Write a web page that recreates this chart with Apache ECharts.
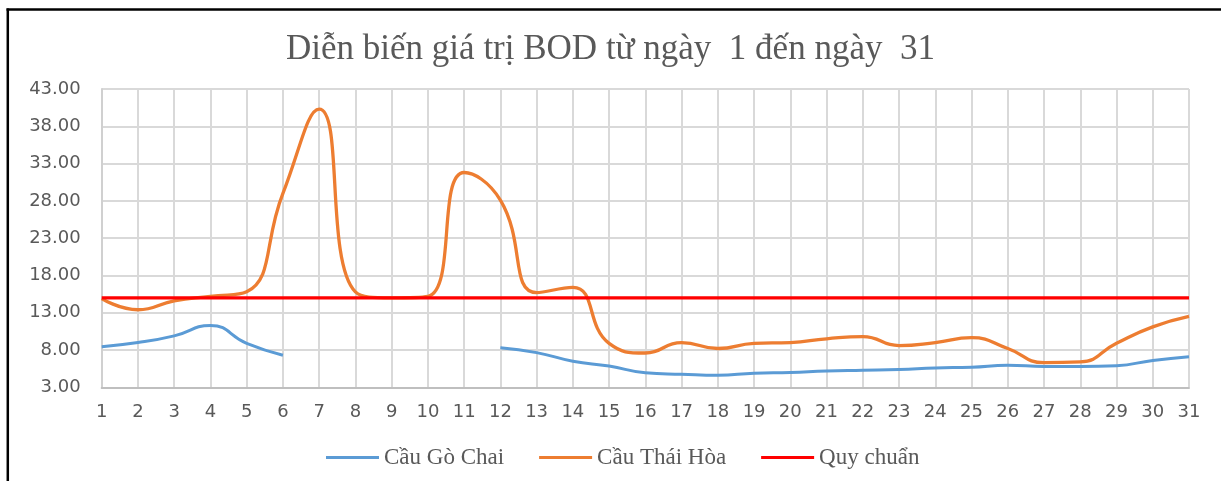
<!DOCTYPE html>
<html>
<head>
<meta charset="utf-8">
<script src="https://cdn.jsdelivr.net/npm/echarts@6/dist/echarts.min.js"></script>
<style>
html,body{margin:0;padding:0;background:#fff;}
#chart{width:1221px;height:481px;}
</style>
</head>
<body>
<div id="chart"></div>
<script>
const titleText = 'Diễn biến giá trị BOD từ ngày  1 đến ngày  31';
const days = ['1','2','3','4','5','6','7','8','9','10','11','12','13','14','15','16','17','18','19','20','21','22','23','24','25','26','27','28','29','30','31'];
const seriesNames = ['Cầu Gò Chai', 'Cầu Thái Hòa', 'Quy chuẩn'];
const goChai = [8.45, 9.0, 9.9, 11.3, 8.9, 7.3, null, null, null, null, null, 8.3, 7.65, 6.5, 5.85, 4.95, 4.75, 4.6, 4.9, 5.0, 5.2, 5.3, 5.4, 5.6, 5.7, 5.95, 5.8, 5.8, 5.9, 6.6, 7.1];
const thaiHoa = [14.9, 13.4, 14.6, 15.2, 15.8, 29.0, 40.3, 15.8, 15.0, 15.2, 31.8, 28.1, 15.7, 16.4, 8.9, 7.6, 9.0, 8.2, 8.9, 9.0, 9.5, 9.8, 8.6, 9.0, 9.65, 8.2, 6.3, 6.4, 8.9, 11.1, 12.5];
const quyChuan = [15,15,15,15,15,15,15,15,15,15,15,15,15,15,15,15,15,15,15,15,15,15,15,15,15,15,15,15,15,15,15];
const yMin = 3, yMax = 43, yStep = 5;

const chart = echarts.init(document.getElementById('chart'), null, {renderer: 'canvas'});
const textColor = '#595959';
chart.setOption({
  animation: false,
  backgroundColor: '#ffffff',
  title: {
    text: titleText,
    left: 'center',
    top: 27,
    textStyle: {fontFamily: 'Liberation Serif', fontSize: 35, fontWeight: 'normal', color: textColor}
  },
  legend: {
    left: 321,
    top: 441,
    icon: 'rect',
    itemWidth: 53,
    itemHeight: 3,
    itemGap: 35,
    textStyle: {fontFamily: 'Liberation Serif', fontSize: 23, color: textColor},
    data: seriesNames
  },
  grid: {left: 101.7, right: 32, top: 89, bottom: 93.7, containLabel: false},
  xAxis: {
    type: 'category',
    data: days,
    boundaryGap: false,
    axisLine: {lineStyle: {color: '#BFBFBF', width: 2}},
    axisTick: {show: false},
    axisLabel: {fontFamily: 'DejaVu Sans', fontSize: 18, color: textColor, margin: 16, interval: 0},
    splitLine: {show: true, lineStyle: {color: '#D9D9D9', width: 2}}
  },
  yAxis: {
    type: 'value',
    min: yMin,
    max: yMax,
    interval: yStep,
    axisLine: {show: true, lineStyle: {color: '#D0D0D0', width: 2}},
    axisTick: {show: false},
    axisLabel: {fontFamily: 'DejaVu Sans', fontSize: 18, color: textColor, margin: 21, formatter: v => v.toFixed(2)},
    splitLine: {show: true, lineStyle: {color: '#D9D9D9', width: 2}}
  },
  series: [
    {name: seriesNames[0], type: 'line', data: goChai, smooth: 0.5, showSymbol: false, connectNulls: false,
     lineStyle: {color: '#5B9BD5', width: 3}, itemStyle: {color: '#5B9BD5'}, z: 3},
    {name: seriesNames[1], type: 'line', data: thaiHoa, smooth: 0.5, showSymbol: false,
     lineStyle: {color: '#ED7D31', width: 3.3}, itemStyle: {color: '#ED7D31'}, z: 2},
    {name: seriesNames[2], type: 'line', data: quyChuan, smooth: false, showSymbol: false,
     lineStyle: {color: '#FF0000', width: 3.3}, itemStyle: {color: '#FF0000'}, z: 4}
  ],
  graphic: [
    {type: 'line', shape: {x1: 6.5, y1: 9.5, x2: 1221, y2: 9.5}, style: {stroke: '#000', lineWidth: 2.5}, z: 100},
    {type: 'line', shape: {x1: 7.8, y1: 8.5, x2: 7.8, y2: 481}, style: {stroke: '#000', lineWidth: 2.5}, z: 100}
  ]
});
</script>
</body>
</html>
